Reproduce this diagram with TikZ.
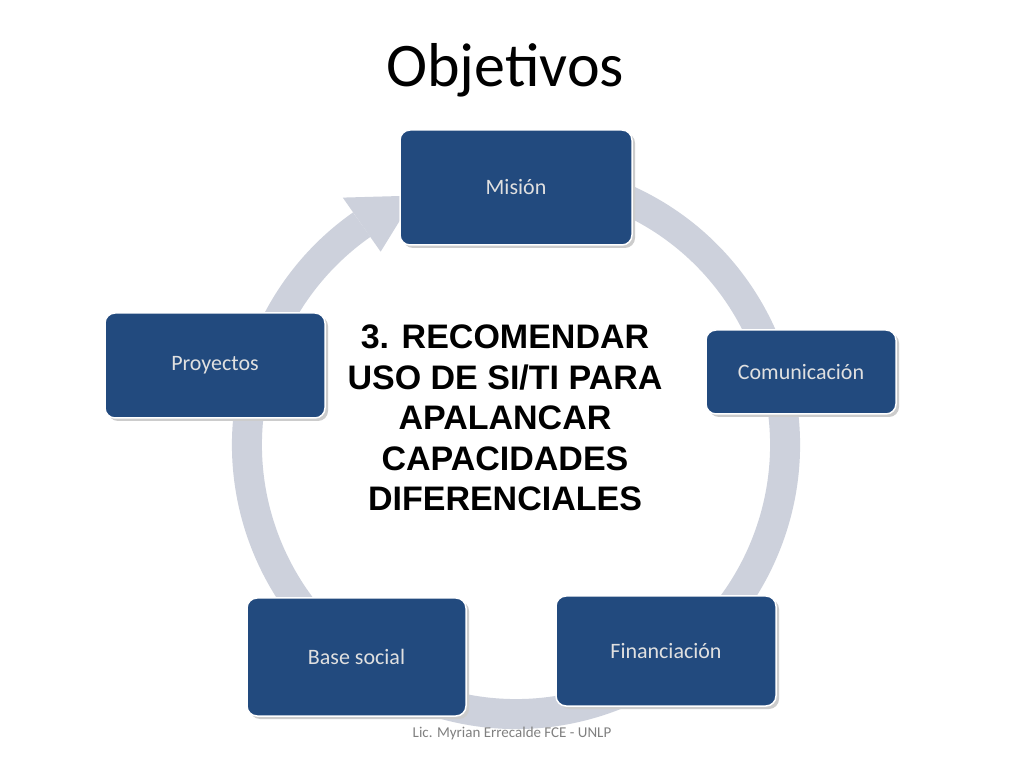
\documentclass[tikz,border=0pt]{standalone}
\usetikzlibrary{calc}
\usepackage{fontspec}
\setmainfont{Carlito}
\newfontfamily\arialb{Liberation Sans}
\begin{document}
\begin{tikzpicture}[x=1pt,y=1pt,
  bx/.style={draw=white,line width=1.5pt,fill={rgb,255:red,34;green,74;blue,126},rounded corners=10pt,text=white!88!black,font=\fontsize{22}{25}\selectfont,inner sep=0pt}]
\useasboundingbox (0,0) rectangle (1024,768);
\fill[white] (0,0) rectangle (1024,768);
\definecolor{ring}{RGB}{205,209,220}
\coordinate (c) at (516,323);
\draw[ring,line width=30pt] (c) ++(70:269) arc[start angle=70,end angle=-235,radius=269];
\fill[ring] ($(c)+(125:302)$) -- ($(c)+(112:269)$) -- ($(c)+(125:236)$) -- cycle;
\node[font=\fontsize{62}{66}\selectfont] (t) at (505,698) {Objetivos};
\foreach \n/\xa/\ya/\xb/\yb/\lab in {m/400/130/632/245/Misión, c1/706/330/896/414/Comunicación, f/556/596/776/706/Financiación, b/247/598/466/716/Base social, p/105/313/325/418/Proyectos}{
  \fill[black!20,rounded corners=10pt] (\xa+3,768-\yb-3) rectangle (\xb+3,768-\ya-3);
  \node[bx,minimum width=\xb-\xa,minimum height=\yb-\ya] (\n) at ({(\xa+\xb)/2},{768-(\ya+\yb)/2}) {\lab};
}
\node[font=\arialb\bfseries\fontsize{34}{40.5}\selectfont,align=center] (ctr) at (505,350) {3. RECOMENDAR\\USO DE SI/TI PARA\\APALANCAR\\CAPACIDADES\\DIFERENCIALES};
\node[text=black!50,font=\fontsize{15}{17}\selectfont] (ft) at (512,35) {Lic. Myrian Errecalde FCE - UNLP};
\end{tikzpicture}
\end{document}
